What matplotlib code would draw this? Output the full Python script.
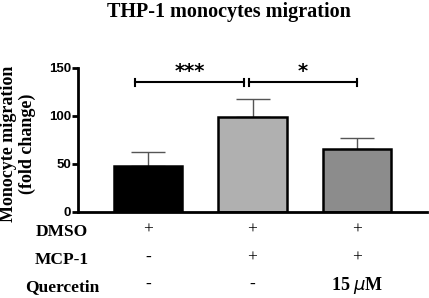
import matplotlib
matplotlib.use("Agg")
import matplotlib.pyplot as plt

groups = ["DMSO", "DMSO+MCP-1", "DMSO+MCP-1+Quercetin"]
means = [48, 99, 66]
errors = [14.5, 19, 11]
bar_colors = ["#000000", "#b0b0b0", "#8c8c8c"]
yticks = [0, 50, 100, 150]
row_labels = ["DMSO", "MCP-1", "Quercetin"]
row_values = [["+", "+", "+"], ["-", "+", "+"], ["-", "-", "15 $\\mu$M"]]
sig_pairs = [(0, 1, "***"), (1, 2, "*")]
sig_y = 135

W, H = 429, 298
fig = plt.figure(figsize=(W / 100, H / 100), dpi=100)
ax = fig.add_axes([78 / W, 1 - 212 / H, (427 - 78) / W, (212 - 68) / H])

x = list(range(len(groups)))
ax.bar(x, means, width=0.66, color=bar_colors, edgecolor="black", linewidth=1.8, zorder=2)
ax.errorbar(x, means, yerr=[[0] * 3, errors], fmt="none", ecolor="#555555",
            elinewidth=1.0, capsize=12.5, capthick=1.0, zorder=1)

ax.set_xlim(-0.67, 2.67)
ax.set_ylim(0, 150)
ax.set_yticks(yticks)
ax.set_xticks([])
for s in ["top", "right"]:
    ax.spines[s].set_visible(False)
for s in ["left", "bottom"]:
    ax.spines[s].set_linewidth(2)
ax.tick_params(axis="y", width=2, length=4, pad=1)
for lab in ax.get_yticklabels():
    lab.set_fontfamily("Liberation Sans")
    lab.set_fontweight("bold")
    lab.set_fontsize(9.5)

fig.text(18 / W, 1 - 144 / H, "Monocyte migration\n(fold change)", rotation=90,
         ha="center", va="center", multialignment="center",
         fontfamily="Liberation Serif", fontweight="bold", fontsize=13, linespacing=1.1)

fig.text(229 / W, 1 - 12 / H, "THP-1 monocytes migration", fontfamily="Liberation Serif",
         fontweight="bold", fontsize=14.5, ha="center", va="center")

# significance brackets
brackets = [(-0.12, 0.92), (0.97, 2.0)]
for (a, b, txt), (xa, xb) in zip(sig_pairs, brackets):
    ax.plot([xa, xb], [sig_y, sig_y], color="black", lw=1.5, clip_on=False)
    for xe in (xa, xb):
        ax.plot([xe, xe], [sig_y - 4, sig_y + 4], color="black", lw=1.5, clip_on=False)
    ax.text((xa + xb) / 2, sig_y + 1, txt, ha="center", va="bottom",
            fontsize=14, fontweight="bold", fontfamily="DejaVu Sans")

# condition table below
row_y = [232, 260, 287]
for lbl, vals, py in zip(row_labels, row_values, row_y):
    fig.text(62 / W, 1 - py / H, lbl, ha="center", va="center",
             fontfamily="Liberation Serif", fontweight="bold", fontsize=12.5)
    for xi, v in zip(x, vals):
        xd = ax.transData.transform((xi, 0))[0]
        xf = fig.transFigure.inverted().transform((xd, 0))[0]
        fig.text(xf, 1 - (py - 2) / H, v, ha="center", va="center",
                 fontfamily="Liberation Serif",
                 fontweight="normal" if v == "+" else "bold",
                 fontsize=13 if "M" in v else 12.5)

fig.savefig("out.png", dpi=100)
